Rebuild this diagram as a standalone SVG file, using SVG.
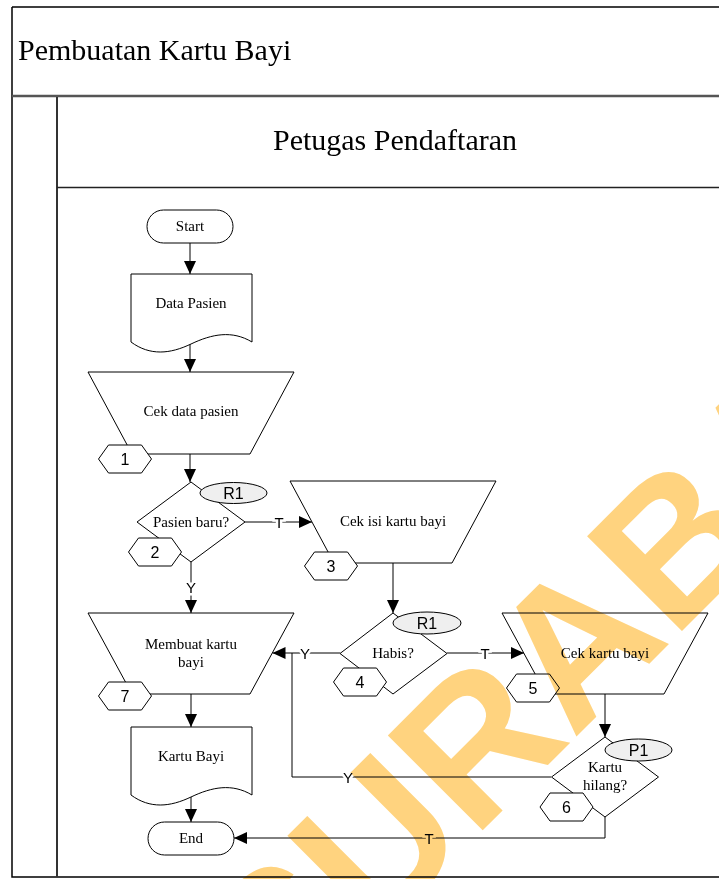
<svg xmlns="http://www.w3.org/2000/svg" xmlns:xlink="http://www.w3.org/1999/xlink" width="719" height="879" viewBox="0 0 719 879">
  <defs>
    <style>
      .frame{fill:none;stroke:#000;stroke-width:1.5}
      .sh{fill:#fff;stroke:#000;stroke-width:1}
      .ref{fill:#efefef;stroke:#000;stroke-width:1}
      .lb{font-family:"Liberation Serif","Times New Roman",serif;font-size:15px;fill:#000;text-anchor:middle}
      .num{font-family:"Liberation Sans",Arial,sans-serif;font-size:16px;fill:#000;text-anchor:middle}
      .cn{fill:none;stroke:#000;stroke-width:1}
      .cl{font-family:"Liberation Sans",Arial,sans-serif;font-size:15px;text-anchor:middle;fill:#000;stroke:#fff;stroke-width:5;paint-order:stroke}
      .ttl{font-family:"Liberation Serif","Times New Roman",serif;font-size:30px;fill:#000}
    </style>
    <marker id="ah" markerWidth="13" markerHeight="12" refX="13" refY="6" orient="auto" markerUnits="userSpaceOnUse">
      <path d="M0,0 L13,6 L0,12 Z" fill="#000"/>
    </marker>
    <polygon id="hex" points="-26.5,0 -16.5,-14 16.5,-14 26.5,0 16.5,14 -16.5,14"/>
  </defs>

  <rect width="719" height="879" fill="#fff"/>

  <!-- pool and lane frame -->
  <g id="frame">
    <path class="frame" d="M12,7 H719 M12,7 V877 H719"/>
    <path d="M12,96 H719" stroke="#555" stroke-width="2.5" fill="none"/>
    <path d="M57,97 V877" stroke="#333" stroke-width="2" fill="none"/>
    <path d="M57,187.5 H719" stroke="#222" stroke-width="1.5" fill="none"/>
    <text class="ttl" x="18" y="60">Pembuatan Kartu Bayi</text>
    <text class="ttl" x="395" y="150" text-anchor="middle">Petugas Pendaftaran</text>
  </g>

  <!-- connectors -->
  <g id="connectors">
    <path class="cn" d="M190,243 V274" marker-end="url(#ah)"/>
    <path class="cn" d="M190,344 V372" marker-end="url(#ah)"/>
    <path class="cn" d="M190,454 V482" marker-end="url(#ah)"/>
    <path class="cn" d="M245,522 H312" marker-end="url(#ah)"/>
    <path class="cn" d="M191,562 V613" marker-end="url(#ah)"/>
    <path class="cn" d="M393,563 V613" marker-end="url(#ah)"/>
    <path class="cn" d="M447,653 H524" marker-end="url(#ah)"/>
    <path class="cn" d="M340,653 H272.5" marker-end="url(#ah)"/>
    <path class="cn" d="M551,777 H292 V653"/>
    <path class="cn" d="M605,694 V737" marker-end="url(#ah)"/>
    <path class="cn" d="M605,817 V838 H234" marker-end="url(#ah)"/>
    <path class="cn" d="M191,694 V727" marker-end="url(#ah)"/>
    <path class="cn" d="M191,797 V822" marker-end="url(#ah)"/>
    <text class="cl" x="279" y="527.5">T</text>
    <text class="cl" x="191" y="592.5">Y</text>
    <text class="cl" x="485" y="658.5">T</text>
    <text class="cl" x="305" y="658.5">Y</text>
    <text class="cl" x="348" y="782.5">Y</text>
    <text class="cl" x="429" y="843.5">T</text>
  </g>

  <g id="start">
    <rect class="sh" x="147" y="210" width="86" height="33" rx="16.5"/>
    <text class="lb" x="190" y="231">Start</text>
  </g>

  <g id="data-pasien">
    <path class="sh" d="M131,274 H252 V342 C232,330 212,334 191,344 C170,354 150,356 131,342 Z"/>
    <text class="lb" x="191" y="308">Data Pasien</text>
  </g>

  <g id="cek-data-pasien">
    <polygon class="sh" points="88,372 294,372 250,454 132,454"/>
    <text class="lb" x="191" y="416">Cek data pasien</text>
    <use xlink:href="#hex" class="sh" x="125" y="459"/>
    <text class="num" x="125" y="465">1</text>
  </g>

  <g id="pasien-baru">
    <polygon class="sh" points="191,482 245,522 191,562 137,522"/>
    <text class="lb" x="191" y="527">Pasien baru?</text>
    <ellipse class="ref" cx="233.5" cy="493" rx="33.5" ry="10.5"/>
    <text class="num" x="233.5" y="499">R1</text>
    <use xlink:href="#hex" class="sh" x="155" y="552"/>
    <text class="num" x="155" y="558">2</text>
  </g>

  <g id="cek-isi-kartu-bayi">
    <polygon class="sh" points="290,481 496,481 452,563 334,563"/>
    <text class="lb" x="393" y="526">Cek isi kartu bayi</text>
    <use xlink:href="#hex" class="sh" x="331" y="566"/>
    <text class="num" x="331" y="572">3</text>
  </g>

  <g id="habis">
    <polygon class="sh" points="393,613 447,653.5 393,694 340,653.5"/>
    <text class="lb" x="393" y="658">Habis?</text>
    <ellipse class="ref" cx="427" cy="623" rx="34" ry="11"/>
    <text class="num" x="427" y="629">R1</text>
    <use xlink:href="#hex" class="sh" x="360" y="682"/>
    <text class="num" x="360" y="688">4</text>
  </g>

  <g id="cek-kartu-bayi">
    <polygon class="sh" points="502,613 708,613 664,694 546,694"/>
    <text class="lb" x="605" y="658">Cek kartu bayi</text>
    <use xlink:href="#hex" class="sh" x="533" y="688"/>
    <text class="num" x="533" y="694">5</text>
  </g>

  <g id="kartu-hilang">
    <polygon class="sh" points="605,737 658.5,777 605,817 551.5,777"/>
    <text class="lb" x="605" y="772">Kartu</text>
    <text class="lb" x="605" y="790">hilang?</text>
    <ellipse class="ref" cx="638.5" cy="750" rx="33.5" ry="11"/>
    <text class="num" x="638.5" y="756">P1</text>
    <use xlink:href="#hex" class="sh" x="566.5" y="807"/>
    <text class="num" x="566.5" y="813">6</text>
  </g>

  <g id="membuat-kartu-bayi">
    <polygon class="sh" points="88,613 294,613 250,694 132,694"/>
    <text class="lb" x="191" y="649">Membuat kartu</text>
    <text class="lb" x="191" y="667">bayi</text>
    <use xlink:href="#hex" class="sh" x="125" y="696"/>
    <text class="num" x="125" y="702">7</text>
  </g>

  <g id="kartu-bayi">
    <path class="sh" d="M131,727 H252 V795 C232,783 212,787 191,797 C170,807 150,809 131,795 Z"/>
    <text class="lb" x="191" y="761">Kartu Bayi</text>
  </g>

  <g id="end">
    <rect class="sh" x="148" y="822" width="86" height="33" rx="16.5"/>
    <text class="lb" x="191" y="843">End</text>
  </g>

  <!-- diagonal watermark, multiplied over the drawing -->
  <g id="watermark" style="mix-blend-mode:multiply">
    <text transform="translate(282,1031) rotate(-45)" font-family="Liberation Sans, Arial, sans-serif" font-weight="bold" font-size="195" fill="#FFD37F">SURABAYA</text>
  </g>
</svg>
